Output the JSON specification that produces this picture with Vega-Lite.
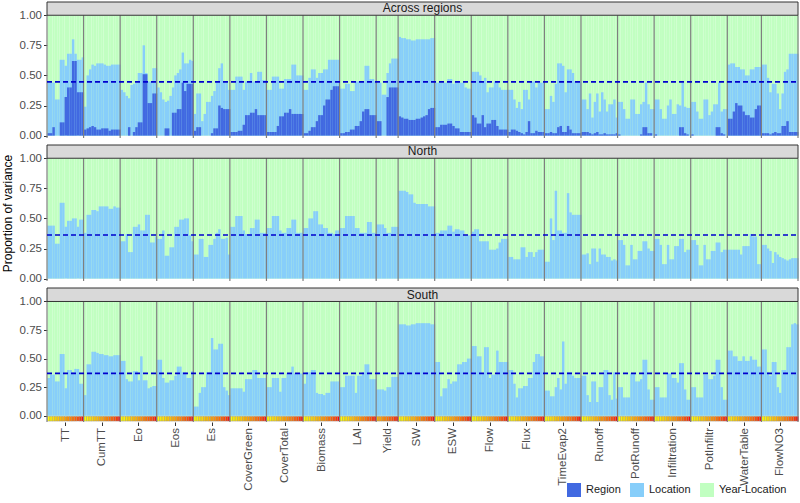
{
"$schema": "https://vega.github.io/schema/vega-lite/v6.json",
"padding": {"left": 1, "top": 1, "right": 1, "bottom": 4},
"bounds": "flush",
"spacing": 7,
"datasets": {
"bars": [
{"g":"TT","k":1,"i":0,"at":0.44,"ar":0.02,"nt":0.44,"st":0.33},
{"g":"TT","k":2,"i":1,"at":0.44,"ar":0.02,"nt":0.44,"st":0.36},
{"g":"TT","k":3,"i":2,"at":0.44,"ar":0.07,"nt":0.44,"st":0.36},
{"g":"TT","k":4,"i":3,"at":0.30,"ar":0,"nt":0.29,"st":0.30},
{"g":"TT","k":5,"i":4,"at":0.30,"ar":0,"nt":0.29,"st":0.30},
{"g":"TT","k":6,"i":5,"at":0.63,"ar":0.11,"nt":0.63,"st":0.54},
{"g":"TT","k":7,"i":6,"at":0.63,"ar":0.11,"nt":0.63,"st":0.54},
{"g":"TT","k":8,"i":7,"at":0.58,"ar":0.32,"nt":0.43,"st":0.24},
{"g":"TT","k":9,"i":8,"at":0.68,"ar":0.40,"nt":0.48,"st":0.40},
{"g":"TT","k":10,"i":9,"at":0.68,"ar":0.40,"nt":0.48,"st":0.40},
{"g":"TT","k":11,"i":10,"at":0.80,"ar":0.62,"nt":0.50,"st":0.38},
{"g":"TT","k":12,"i":11,"at":0.68,"ar":0.62,"nt":0.50,"st":0.41},
{"g":"TT","k":13,"i":12,"at":0.63,"ar":0.36,"nt":0.43,"st":0.41},
{"g":"TT","k":14,"i":13,"at":0.63,"ar":0.36,"nt":0.49,"st":0.28},
{"g":"TT","k":15,"i":14,"at":0.65,"ar":0.36,"nt":0.49,"st":0.28},
{"g":"CumTT","k":1,"i":15,"at":0.24,"ar":0.05,"nt":0.38,"st":0.18},
{"g":"CumTT","k":2,"i":16,"at":0.50,"ar":0.06,"nt":0.53,"st":0.45},
{"g":"CumTT","k":3,"i":17,"at":0.55,"ar":0.07,"nt":0.53,"st":0.45},
{"g":"CumTT","k":4,"i":18,"at":0.59,"ar":0.08,"nt":0.57,"st":0.56},
{"g":"CumTT","k":5,"i":19,"at":0.58,"ar":0.07,"nt":0.57,"st":0.56},
{"g":"CumTT","k":6,"i":20,"at":0.60,"ar":0.05,"nt":0.56,"st":0.55},
{"g":"CumTT","k":7,"i":21,"at":0.60,"ar":0.05,"nt":0.60,"st":0.54},
{"g":"CumTT","k":8,"i":22,"at":0.60,"ar":0.06,"nt":0.60,"st":0.54},
{"g":"CumTT","k":9,"i":23,"at":0.59,"ar":0.06,"nt":0.60,"st":0.53},
{"g":"CumTT","k":10,"i":24,"at":0.58,"ar":0.06,"nt":0.60,"st":0.53},
{"g":"CumTT","k":11,"i":25,"at":0.58,"ar":0.04,"nt":0.58,"st":0.52},
{"g":"CumTT","k":12,"i":26,"at":0.59,"ar":0.05,"nt":0.58,"st":0.52},
{"g":"CumTT","k":13,"i":27,"at":0.59,"ar":0.05,"nt":0.60,"st":0.53},
{"g":"CumTT","k":14,"i":28,"at":0.59,"ar":0.05,"nt":0.59,"st":0.53},
{"g":"CumTT","k":15,"i":29,"at":0.59,"ar":0.05,"nt":0.59,"st":0.53},
{"g":"Eo","k":1,"i":30,"at":0.38,"ar":0,"nt":0.31,"st":0.48},
{"g":"Eo","k":2,"i":31,"at":0.36,"ar":0,"nt":0.31,"st":0.48},
{"g":"Eo","k":3,"i":32,"at":0.33,"ar":0,"nt":0.37,"st":0.32},
{"g":"Eo","k":4,"i":33,"at":0.31,"ar":0.07,"nt":0.22,"st":0.30},
{"g":"Eo","k":5,"i":34,"at":0.42,"ar":0,"nt":0.22,"st":0.30},
{"g":"Eo","k":6,"i":35,"at":0.43,"ar":0.03,"nt":0.43,"st":0.39},
{"g":"Eo","k":7,"i":36,"at":0.44,"ar":0.07,"nt":0.43,"st":0.39},
{"g":"Eo","k":8,"i":37,"at":0.52,"ar":0.11,"nt":0.45,"st":0.31},
{"g":"Eo","k":9,"i":38,"at":0.52,"ar":0.11,"nt":0.40,"st":0.52},
{"g":"Eo","k":10,"i":39,"at":0.75,"ar":0.51,"nt":0.40,"st":0.31},
{"g":"Eo","k":11,"i":40,"at":0.52,"ar":0.51,"nt":0.53,"st":0.31},
{"g":"Eo","k":12,"i":41,"at":0.45,"ar":0.27,"nt":0.53,"st":0.24},
{"g":"Eo","k":13,"i":42,"at":0.45,"ar":0.27,"nt":0.30,"st":0.25},
{"g":"Eo","k":14,"i":43,"at":0.56,"ar":0.35,"nt":0.30,"st":0.26},
{"g":"Eo","k":15,"i":44,"at":0.56,"ar":0.35,"nt":0.35,"st":0.26},
{"g":"Eos","k":1,"i":45,"at":0.40,"ar":0,"nt":0.33,"st":0.49},
{"g":"Eos","k":2,"i":46,"at":0.36,"ar":0,"nt":0.33,"st":0.49},
{"g":"Eos","k":3,"i":47,"at":0.30,"ar":0,"nt":0.40,"st":0.33},
{"g":"Eos","k":4,"i":48,"at":0.28,"ar":0.06,"nt":0.19,"st":0.29},
{"g":"Eos","k":5,"i":49,"at":0.29,"ar":0.06,"nt":0.19,"st":0.29},
{"g":"Eos","k":6,"i":50,"at":0.33,"ar":0,"nt":0.26,"st":0.31},
{"g":"Eos","k":7,"i":51,"at":0.40,"ar":0.19,"nt":0.26,"st":0.31},
{"g":"Eos","k":8,"i":52,"at":0.50,"ar":0.19,"nt":0.43,"st":0.35},
{"g":"Eos","k":9,"i":53,"at":0.52,"ar":0.22,"nt":0.43,"st":0.43},
{"g":"Eos","k":10,"i":54,"at":0.55,"ar":0.22,"nt":0.49,"st":0.43},
{"g":"Eos","k":11,"i":55,"at":0.69,"ar":0.44,"nt":0.49,"st":0.38},
{"g":"Eos","k":12,"i":56,"at":0.60,"ar":0.37,"nt":0.50,"st":0.38},
{"g":"Eos","k":13,"i":57,"at":0.60,"ar":0.43,"nt":0.50,"st":0.33},
{"g":"Eos","k":14,"i":58,"at":0.63,"ar":0.43,"nt":0.36,"st":0.33},
{"g":"Eos","k":15,"i":59,"at":0.62,"ar":0.43,"nt":0.31,"st":0.39},
{"g":"Es","k":1,"i":60,"at":0.18,"ar":0.04,"nt":0.20,"st":0.08},
{"g":"Es","k":2,"i":61,"at":0.35,"ar":0.07,"nt":0.20,"st":0.08},
{"g":"Es","k":3,"i":62,"at":0.35,"ar":0.07,"nt":0.33,"st":0.20},
{"g":"Es","k":4,"i":63,"at":0.12,"ar":0,"nt":0.33,"st":0.25},
{"g":"Es","k":5,"i":64,"at":0.18,"ar":0,"nt":0.18,"st":0.25},
{"g":"Es","k":6,"i":65,"at":0.28,"ar":0,"nt":0.18,"st":0.38},
{"g":"Es","k":7,"i":66,"at":0.28,"ar":0,"nt":0.28,"st":0.38},
{"g":"Es","k":8,"i":67,"at":0.33,"ar":0.02,"nt":0.28,"st":0.68},
{"g":"Es","k":9,"i":68,"at":0.37,"ar":0.06,"nt":0.33,"st":0.58},
{"g":"Es","k":10,"i":69,"at":0.45,"ar":0.06,"nt":0.38,"st":0.58},
{"g":"Es","k":11,"i":70,"at":0.56,"ar":0.25,"nt":0.41,"st":0.63},
{"g":"Es","k":12,"i":71,"at":0.60,"ar":0.23,"nt":0.33,"st":0.63},
{"g":"Es","k":13,"i":72,"at":0.45,"ar":0.22,"nt":0.33,"st":0.25},
{"g":"Es","k":14,"i":73,"at":0.45,"ar":0.22,"nt":0.34,"st":0.22},
{"g":"Es","k":15,"i":74,"at":0.38,"ar":0.22,"nt":0.20,"st":0.18},
{"g":"CoverGreen","k":1,"i":75,"at":0.38,"ar":0.03,"nt":0.43,"st":0.24},
{"g":"CoverGreen","k":2,"i":76,"at":0.38,"ar":0.03,"nt":0.43,"st":0.24},
{"g":"CoverGreen","k":3,"i":77,"at":0.49,"ar":0.03,"nt":0.52,"st":0.24},
{"g":"CoverGreen","k":4,"i":78,"at":0.49,"ar":0.04,"nt":0.52,"st":0.24},
{"g":"CoverGreen","k":5,"i":79,"at":0.49,"ar":0.04,"nt":0.52,"st":0.24},
{"g":"CoverGreen","k":6,"i":80,"at":0.38,"ar":0.09,"nt":0.40,"st":0.21},
{"g":"CoverGreen","k":7,"i":81,"at":0.45,"ar":0.17,"nt":0.37,"st":0.32},
{"g":"CoverGreen","k":8,"i":82,"at":0.45,"ar":0.17,"nt":0.37,"st":0.32},
{"g":"CoverGreen","k":9,"i":83,"at":0.52,"ar":0.19,"nt":0.42,"st":0.32},
{"g":"CoverGreen","k":10,"i":84,"at":0.45,"ar":0.19,"nt":0.42,"st":0.40},
{"g":"CoverGreen","k":11,"i":85,"at":0.45,"ar":0.22,"nt":0.49,"st":0.40},
{"g":"CoverGreen","k":12,"i":86,"at":0.53,"ar":0.17,"nt":0.49,"st":0.33},
{"g":"CoverGreen","k":13,"i":87,"at":0.53,"ar":0.17,"nt":0.38,"st":0.33},
{"g":"CoverGreen","k":14,"i":88,"at":0.46,"ar":0.17,"nt":0.38,"st":0.33},
{"g":"CoverGreen","k":15,"i":89,"at":0.46,"ar":0.17,"nt":0.38,"st":0.33},
{"g":"CoverTotal","k":1,"i":90,"at":0.38,"ar":0.03,"nt":0.42,"st":0.25},
{"g":"CoverTotal","k":2,"i":91,"at":0.38,"ar":0.03,"nt":0.42,"st":0.25},
{"g":"CoverTotal","k":3,"i":92,"at":0.49,"ar":0.03,"nt":0.52,"st":0.33},
{"g":"CoverTotal","k":4,"i":93,"at":0.49,"ar":0.03,"nt":0.52,"st":0.33},
{"g":"CoverTotal","k":5,"i":94,"at":0.49,"ar":0.08,"nt":0.52,"st":0.33},
{"g":"CoverTotal","k":6,"i":95,"at":0.39,"ar":0.16,"nt":0.40,"st":0.21},
{"g":"CoverTotal","k":7,"i":96,"at":0.39,"ar":0.16,"nt":0.38,"st":0.33},
{"g":"CoverTotal","k":8,"i":97,"at":0.47,"ar":0.19,"nt":0.38,"st":0.33},
{"g":"CoverTotal","k":9,"i":98,"at":0.47,"ar":0.19,"nt":0.42,"st":0.37},
{"g":"CoverTotal","k":10,"i":99,"at":0.47,"ar":0.22,"nt":0.42,"st":0.37},
{"g":"CoverTotal","k":11,"i":100,"at":0.59,"ar":0.18,"nt":0.49,"st":0.43},
{"g":"CoverTotal","k":12,"i":101,"at":0.59,"ar":0.18,"nt":0.49,"st":0.37},
{"g":"CoverTotal","k":13,"i":102,"at":0.50,"ar":0.18,"nt":0.38,"st":0.37},
{"g":"CoverTotal","k":14,"i":103,"at":0.50,"ar":0.18,"nt":0.38,"st":0.37},
{"g":"CoverTotal","k":15,"i":104,"at":0.50,"ar":0.18,"nt":0.38,"st":0.37},
{"g":"Biomass","k":1,"i":105,"at":0.38,"ar":0.02,"nt":0.42,"st":0.28},
{"g":"Biomass","k":2,"i":106,"at":0.38,"ar":0.02,"nt":0.42,"st":0.38},
{"g":"Biomass","k":3,"i":107,"at":0.48,"ar":0.04,"nt":0.50,"st":0.38},
{"g":"Biomass","k":4,"i":108,"at":0.55,"ar":0.07,"nt":0.50,"st":0.40},
{"g":"Biomass","k":5,"i":109,"at":0.55,"ar":0.07,"nt":0.56,"st":0.40},
{"g":"Biomass","k":6,"i":110,"at":0.48,"ar":0.12,"nt":0.56,"st":0.20},
{"g":"Biomass","k":7,"i":111,"at":0.52,"ar":0.17,"nt":0.45,"st":0.19},
{"g":"Biomass","k":8,"i":112,"at":0.52,"ar":0.17,"nt":0.45,"st":0.19},
{"g":"Biomass","k":9,"i":113,"at":0.55,"ar":0.25,"nt":0.42,"st":0.18},
{"g":"Biomass","k":10,"i":114,"at":0.55,"ar":0.30,"nt":0.42,"st":0.20},
{"g":"Biomass","k":11,"i":115,"at":0.63,"ar":0.30,"nt":0.38,"st":0.20},
{"g":"Biomass","k":12,"i":116,"at":0.63,"ar":0.38,"nt":0.38,"st":0.30},
{"g":"Biomass","k":13,"i":117,"at":0.63,"ar":0.41,"nt":0.37,"st":0.30},
{"g":"Biomass","k":14,"i":118,"at":0.63,"ar":0.41,"nt":0.40,"st":0.30},
{"g":"Biomass","k":15,"i":119,"at":0.63,"ar":0.41,"nt":0.40,"st":0.30},
{"g":"LAI","k":1,"i":120,"at":0.39,"ar":0.02,"nt":0.42,"st":0.25},
{"g":"LAI","k":2,"i":121,"at":0.39,"ar":0.02,"nt":0.42,"st":0.25},
{"g":"LAI","k":3,"i":122,"at":0.43,"ar":0.03,"nt":0.52,"st":0.35},
{"g":"LAI","k":4,"i":123,"at":0.43,"ar":0.03,"nt":0.52,"st":0.35},
{"g":"LAI","k":5,"i":124,"at":0.37,"ar":0.05,"nt":0.52,"st":0.35},
{"g":"LAI","k":6,"i":125,"at":0.37,"ar":0.05,"nt":0.52,"st":0.35},
{"g":"LAI","k":7,"i":126,"at":0.45,"ar":0.08,"nt":0.42,"st":0.20},
{"g":"LAI","k":8,"i":127,"at":0.45,"ar":0.08,"nt":0.42,"st":0.35},
{"g":"LAI","k":9,"i":128,"at":0.45,"ar":0.12,"nt":0.38,"st":0.35},
{"g":"LAI","k":10,"i":129,"at":0.45,"ar":0.20,"nt":0.38,"st":0.38},
{"g":"LAI","k":11,"i":130,"at":0.58,"ar":0.22,"nt":0.38,"st":0.45},
{"g":"LAI","k":12,"i":131,"at":0.58,"ar":0.22,"nt":0.47,"st":0.45},
{"g":"LAI","k":13,"i":132,"at":0.47,"ar":0.17,"nt":0.47,"st":0.32},
{"g":"LAI","k":14,"i":133,"at":0.47,"ar":0.17,"nt":0.38,"st":0.32},
{"g":"LAI","k":15,"i":134,"at":0.45,"ar":0.17,"nt":0.38,"st":0.32},
{"g":"Yield","k":7,"i":135,"at":0.44,"ar":0.12,"nt":0.45,"st":0.23},
{"g":"Yield","k":8,"i":136,"at":0.44,"ar":0.12,"nt":0.45,"st":0.23},
{"g":"Yield","k":9,"i":137,"at":0.34,"ar":0,"nt":0.45,"st":0.23},
{"g":"Yield","k":10,"i":138,"at":0.34,"ar":0,"nt":0.42,"st":0.22},
{"g":"Yield","k":11,"i":139,"at":0.52,"ar":0.32,"nt":0.38,"st":0.25},
{"g":"Yield","k":12,"i":140,"at":0.60,"ar":0.40,"nt":0.38,"st":0.25},
{"g":"Yield","k":13,"i":141,"at":0.64,"ar":0.40,"nt":0.43,"st":0.34},
{"g":"Yield","k":14,"i":142,"at":0.64,"ar":0.40,"nt":0.43,"st":0.34},
{"g":"Yield","k":15,"i":143,"at":0.64,"ar":0.40,"nt":0.43,"st":0.34},
{"g":"SW","k":1,"i":144,"at":0.82,"ar":0.16,"nt":0.73,"st":0.80},
{"g":"SW","k":2,"i":145,"at":0.81,"ar":0.15,"nt":0.73,"st":0.80},
{"g":"SW","k":3,"i":146,"at":0.81,"ar":0.14,"nt":0.73,"st":0.80},
{"g":"SW","k":4,"i":147,"at":0.80,"ar":0.14,"nt":0.72,"st":0.79},
{"g":"SW","k":5,"i":148,"at":0.80,"ar":0.13,"nt":0.70,"st":0.79},
{"g":"SW","k":6,"i":149,"at":0.79,"ar":0.13,"nt":0.70,"st":0.80},
{"g":"SW","k":7,"i":150,"at":0.79,"ar":0.13,"nt":0.63,"st":0.80},
{"g":"SW","k":8,"i":151,"at":0.80,"ar":0.14,"nt":0.62,"st":0.81},
{"g":"SW","k":9,"i":152,"at":0.80,"ar":0.14,"nt":0.62,"st":0.81},
{"g":"SW","k":10,"i":153,"at":0.80,"ar":0.15,"nt":0.62,"st":0.81},
{"g":"SW","k":11,"i":154,"at":0.80,"ar":0.16,"nt":0.62,"st":0.81},
{"g":"SW","k":12,"i":155,"at":0.80,"ar":0.17,"nt":0.62,"st":0.81},
{"g":"SW","k":13,"i":156,"at":0.80,"ar":0.22,"nt":0.60,"st":0.81},
{"g":"SW","k":14,"i":157,"at":0.81,"ar":0.23,"nt":0.60,"st":0.80},
{"g":"SW","k":15,"i":158,"at":0.81,"ar":0.23,"nt":0.60,"st":0.80},
{"g":"ESW","k":1,"i":159,"at":0.44,"ar":0.07,"nt":0.38,"st":0.47},
{"g":"ESW","k":2,"i":160,"at":0.44,"ar":0.07,"nt":0.38,"st":0.47},
{"g":"ESW","k":3,"i":161,"at":0.44,"ar":0.09,"nt":0.40,"st":0.17},
{"g":"ESW","k":4,"i":162,"at":0.44,"ar":0.09,"nt":0.40,"st":0.24},
{"g":"ESW","k":5,"i":163,"at":0.44,"ar":0.09,"nt":0.40,"st":0.24},
{"g":"ESW","k":6,"i":164,"at":0.47,"ar":0.10,"nt":0.44,"st":0.32},
{"g":"ESW","k":7,"i":165,"at":0.47,"ar":0.10,"nt":0.44,"st":0.28},
{"g":"ESW","k":8,"i":166,"at":0.43,"ar":0.08,"nt":0.39,"st":0.30},
{"g":"ESW","k":9,"i":167,"at":0.45,"ar":0.06,"nt":0.41,"st":0.30},
{"g":"ESW","k":10,"i":168,"at":0.45,"ar":0.06,"nt":0.41,"st":0.45},
{"g":"ESW","k":11,"i":169,"at":0.44,"ar":0.03,"nt":0.40,"st":0.45},
{"g":"ESW","k":12,"i":170,"at":0.44,"ar":0.03,"nt":0.40,"st":0.47},
{"g":"ESW","k":13,"i":171,"at":0.40,"ar":0.03,"nt":0.36,"st":0.47},
{"g":"ESW","k":14,"i":172,"at":0.39,"ar":0.03,"nt":0.36,"st":0.50},
{"g":"ESW","k":15,"i":173,"at":0.39,"ar":0.03,"nt":0.36,"st":0.50},
{"g":"Flow","k":1,"i":174,"at":0.53,"ar":0.17,"nt":0.39,"st":0.61},
{"g":"Flow","k":2,"i":175,"at":0.53,"ar":0.15,"nt":0.41,"st":0.61},
{"g":"Flow","k":3,"i":176,"at":0.53,"ar":0.10,"nt":0.41,"st":0.52},
{"g":"Flow","k":4,"i":177,"at":0.50,"ar":0.10,"nt":0.31,"st":0.52},
{"g":"Flow","k":5,"i":178,"at":0.45,"ar":0.17,"nt":0.31,"st":0.37},
{"g":"Flow","k":6,"i":179,"at":0.48,"ar":0.07,"nt":0.31,"st":0.60},
{"g":"Flow","k":7,"i":180,"at":0.36,"ar":0.10,"nt":0.31,"st":0.60},
{"g":"Flow","k":8,"i":181,"at":0.40,"ar":0.10,"nt":0.24,"st":0.33},
{"g":"Flow","k":9,"i":182,"at":0.40,"ar":0.13,"nt":0.24,"st":0.36},
{"g":"Flow","k":10,"i":183,"at":0.45,"ar":0.13,"nt":0.24,"st":0.36},
{"g":"Flow","k":11,"i":184,"at":0.45,"ar":0.08,"nt":0.25,"st":0.57},
{"g":"Flow","k":12,"i":185,"at":0.40,"ar":0.05,"nt":0.30,"st":0.47},
{"g":"Flow","k":13,"i":186,"at":0.38,"ar":0.05,"nt":0.33,"st":0.47},
{"g":"Flow","k":14,"i":187,"at":0.38,"ar":0.05,"nt":0.33,"st":0.47},
{"g":"Flow","k":15,"i":188,"at":0.38,"ar":0.05,"nt":0.33,"st":0.47},
{"g":"Flux","k":1,"i":189,"at":0.38,"ar":0.03,"nt":0.18,"st":0.40},
{"g":"Flux","k":2,"i":190,"at":0.38,"ar":0.05,"nt":0.18,"st":0.40},
{"g":"Flux","k":3,"i":191,"at":0.30,"ar":0.05,"nt":0.16,"st":0.28},
{"g":"Flux","k":4,"i":192,"at":0.23,"ar":0.04,"nt":0.16,"st":0.16},
{"g":"Flux","k":5,"i":193,"at":0.28,"ar":0.03,"nt":0.16,"st":0.24},
{"g":"Flux","k":6,"i":194,"at":0.22,"ar":0.02,"nt":0.26,"st":0.24},
{"g":"Flux","k":7,"i":195,"at":0.38,"ar":0.01,"nt":0.26,"st":0.26},
{"g":"Flux","k":8,"i":196,"at":0.38,"ar":0.03,"nt":0.18,"st":0.26},
{"g":"Flux","k":9,"i":197,"at":0.30,"ar":0.12,"nt":0.22,"st":0.33},
{"g":"Flux","k":10,"i":198,"at":0.45,"ar":0.02,"nt":0.22,"st":0.33},
{"g":"Flux","k":11,"i":199,"at":0.45,"ar":0.02,"nt":0.18,"st":0.47},
{"g":"Flux","k":12,"i":200,"at":0.40,"ar":0.04,"nt":0.22,"st":0.54},
{"g":"Flux","k":13,"i":201,"at":0.44,"ar":0.03,"nt":0.24,"st":0.54},
{"g":"Flux","k":14,"i":202,"at":0.44,"ar":0.03,"nt":0.24,"st":0.52},
{"g":"Flux","k":15,"i":203,"at":0.44,"ar":0.03,"nt":0.24,"st":0.52},
{"g":"TimeEvap2","k":1,"i":204,"at":0.22,"ar":0.02,"nt":0.14,"st":0.22},
{"g":"TimeEvap2","k":2,"i":205,"at":0.22,"ar":0.02,"nt":0.14,"st":0.22},
{"g":"TimeEvap2","k":3,"i":206,"at":0.33,"ar":0.03,"nt":0.50,"st":0.17},
{"g":"TimeEvap2","k":4,"i":207,"at":0.28,"ar":0.02,"nt":0.32,"st":0.17},
{"g":"TimeEvap2","k":5,"i":208,"at":0.43,"ar":0.02,"nt":0.73,"st":0.25},
{"g":"TimeEvap2","k":6,"i":209,"at":0.60,"ar":0.07,"nt":0.40,"st":0.33},
{"g":"TimeEvap2","k":7,"i":210,"at":0.60,"ar":0.08,"nt":0.40,"st":0.23},
{"g":"TimeEvap2","k":8,"i":211,"at":0.58,"ar":0.03,"nt":0.38,"st":0.65},
{"g":"TimeEvap2","k":9,"i":212,"at":0.36,"ar":0.03,"nt":0.38,"st":0.28},
{"g":"TimeEvap2","k":10,"i":213,"at":0.55,"ar":0.08,"nt":0.71,"st":0.38},
{"g":"TimeEvap2","k":11,"i":214,"at":0.55,"ar":0.05,"nt":0.55,"st":0.38},
{"g":"TimeEvap2","k":12,"i":215,"at":0.52,"ar":0.02,"nt":0.53,"st":0.35},
{"g":"TimeEvap2","k":13,"i":216,"at":0.45,"ar":0.02,"nt":0.53,"st":0.33},
{"g":"TimeEvap2","k":14,"i":217,"at":0.45,"ar":0.02,"nt":0.53,"st":0.33},
{"g":"TimeEvap2","k":15,"i":218,"at":0.45,"ar":0.02,"nt":0.53,"st":0.33},
{"g":"Runoff","k":1,"i":219,"at":0.30,"ar":0.03,"nt":0.20,"st":0.35},
{"g":"Runoff","k":2,"i":220,"at":0.30,"ar":0.03,"nt":0.20,"st":0.35},
{"g":"Runoff","k":3,"i":221,"at":0.22,"ar":0.03,"nt":0.21,"st":0.18},
{"g":"Runoff","k":4,"i":222,"at":0.35,"ar":0.02,"nt":0.12,"st":0.12},
{"g":"Runoff","k":5,"i":223,"at":0.15,"ar":0.01,"nt":0.25,"st":0.30},
{"g":"Runoff","k":6,"i":224,"at":0.28,"ar":0.02,"nt":0.25,"st":0.30},
{"g":"Runoff","k":7,"i":225,"at":0.35,"ar":0.03,"nt":0.14,"st":0.12},
{"g":"Runoff","k":8,"i":226,"at":0.20,"ar":0.01,"nt":0.25,"st":0.25},
{"g":"Runoff","k":9,"i":227,"at":0.36,"ar":0.01,"nt":0.20,"st":0.25},
{"g":"Runoff","k":10,"i":228,"at":0.30,"ar":0.02,"nt":0.20,"st":0.40},
{"g":"Runoff","k":11,"i":229,"at":0.20,"ar":0.01,"nt":0.18,"st":0.40},
{"g":"Runoff","k":12,"i":230,"at":0.26,"ar":0.01,"nt":0.18,"st":0.18},
{"g":"Runoff","k":13,"i":231,"at":0.26,"ar":0.01,"nt":0.15,"st":0.14},
{"g":"Runoff","k":14,"i":232,"at":0.30,"ar":0.01,"nt":0.16,"st":0.38},
{"g":"Runoff","k":15,"i":233,"at":0.15,"ar":0.02,"nt":0.15,"st":0.15},
{"g":"PotRunoff","k":1,"i":234,"at":0.28,"ar":0.01,"nt":0.32,"st":0.25},
{"g":"PotRunoff","k":2,"i":235,"at":0.28,"ar":0,"nt":0.32,"st":0.25},
{"g":"PotRunoff","k":3,"i":236,"at":0.22,"ar":0,"nt":0.28,"st":0.16},
{"g":"PotRunoff","k":4,"i":237,"at":0.14,"ar":0,"nt":0.11,"st":0.16},
{"g":"PotRunoff","k":5,"i":238,"at":0.14,"ar":0,"nt":0.11,"st":0.16},
{"g":"PotRunoff","k":6,"i":239,"at":0.30,"ar":0,"nt":0.28,"st":0.37},
{"g":"PotRunoff","k":7,"i":240,"at":0.30,"ar":0,"nt":0.16,"st":0.37},
{"g":"PotRunoff","k":8,"i":241,"at":0.18,"ar":0,"nt":0.16,"st":0.30},
{"g":"PotRunoff","k":9,"i":242,"at":0.18,"ar":0,"nt":0.23,"st":0.30},
{"g":"PotRunoff","k":10,"i":243,"at":0.26,"ar":0.01,"nt":0.23,"st":0.32},
{"g":"PotRunoff","k":11,"i":244,"at":0.28,"ar":0.07,"nt":0.31,"st":0.49},
{"g":"PotRunoff","k":12,"i":245,"at":0.44,"ar":0.07,"nt":0.31,"st":0.49},
{"g":"PotRunoff","k":13,"i":246,"at":0.26,"ar":0.02,"nt":0.25,"st":0.23},
{"g":"PotRunoff","k":14,"i":247,"at":0.22,"ar":0.02,"nt":0.23,"st":0.14},
{"g":"PotRunoff","k":15,"i":248,"at":0.22,"ar":0,"nt":0.23,"st":0.14},
{"g":"Infiltration","k":1,"i":249,"at":0.30,"ar":0.01,"nt":0.33,"st":0.25},
{"g":"Infiltration","k":2,"i":250,"at":0.30,"ar":0,"nt":0.33,"st":0.25},
{"g":"Infiltration","k":3,"i":251,"at":0.22,"ar":0,"nt":0.28,"st":0.16},
{"g":"Infiltration","k":4,"i":252,"at":0.14,"ar":0,"nt":0.12,"st":0.16},
{"g":"Infiltration","k":5,"i":253,"at":0.14,"ar":0,"nt":0.12,"st":0.16},
{"g":"Infiltration","k":6,"i":254,"at":0.25,"ar":0,"nt":0.28,"st":0.37},
{"g":"Infiltration","k":7,"i":255,"at":0.30,"ar":0,"nt":0.16,"st":0.37},
{"g":"Infiltration","k":8,"i":256,"at":0.18,"ar":0,"nt":0.16,"st":0.33},
{"g":"Infiltration","k":9,"i":257,"at":0.18,"ar":0,"nt":0.27,"st":0.33},
{"g":"Infiltration","k":10,"i":258,"at":0.26,"ar":0,"nt":0.27,"st":0.29},
{"g":"Infiltration","k":11,"i":259,"at":0.25,"ar":0.07,"nt":0.33,"st":0.46},
{"g":"Infiltration","k":12,"i":260,"at":0.44,"ar":0.07,"nt":0.33,"st":0.46},
{"g":"Infiltration","k":13,"i":261,"at":0.24,"ar":0.02,"nt":0.22,"st":0.23},
{"g":"Infiltration","k":14,"i":262,"at":0.23,"ar":0.01,"nt":0.24,"st":0.14},
{"g":"Infiltration","k":15,"i":263,"at":0.23,"ar":0,"nt":0.24,"st":0.14},
{"g":"PotInfiltr","k":1,"i":264,"at":0.28,"ar":0.01,"nt":0.32,"st":0.25},
{"g":"PotInfiltr","k":2,"i":265,"at":0.28,"ar":0,"nt":0.32,"st":0.25},
{"g":"PotInfiltr","k":3,"i":266,"at":0.20,"ar":0,"nt":0.28,"st":0.16},
{"g":"PotInfiltr","k":4,"i":267,"at":0.14,"ar":0,"nt":0.11,"st":0.16},
{"g":"PotInfiltr","k":5,"i":268,"at":0.14,"ar":0,"nt":0.11,"st":0.16},
{"g":"PotInfiltr","k":6,"i":269,"at":0.30,"ar":0,"nt":0.28,"st":0.36},
{"g":"PotInfiltr","k":7,"i":270,"at":0.30,"ar":0,"nt":0.16,"st":0.36},
{"g":"PotInfiltr","k":8,"i":271,"at":0.17,"ar":0,"nt":0.16,"st":0.32},
{"g":"PotInfiltr","k":9,"i":272,"at":0.20,"ar":0,"nt":0.23,"st":0.32},
{"g":"PotInfiltr","k":10,"i":273,"at":0.26,"ar":0,"nt":0.23,"st":0.35},
{"g":"PotInfiltr","k":11,"i":274,"at":0.26,"ar":0.07,"nt":0.30,"st":0.49},
{"g":"PotInfiltr","k":12,"i":275,"at":0.44,"ar":0.07,"nt":0.30,"st":0.49},
{"g":"PotInfiltr","k":13,"i":276,"at":0.20,"ar":0.02,"nt":0.22,"st":0.25},
{"g":"PotInfiltr","k":14,"i":277,"at":0.22,"ar":0.01,"nt":0.24,"st":0.14},
{"g":"PotInfiltr","k":15,"i":278,"at":0.22,"ar":0,"nt":0.24,"st":0.14},
{"g":"WaterTable","k":2,"i":279,"at":0.59,"ar":0.14,"nt":0.24,"st":0.57},
{"g":"WaterTable","k":3,"i":280,"at":0.60,"ar":0.14,"nt":0.24,"st":0.57},
{"g":"WaterTable","k":4,"i":281,"at":0.60,"ar":0.20,"nt":0.24,"st":0.52},
{"g":"WaterTable","k":5,"i":282,"at":0.57,"ar":0.27,"nt":0.24,"st":0.52},
{"g":"WaterTable","k":6,"i":283,"at":0.57,"ar":0.25,"nt":0.24,"st":0.48},
{"g":"WaterTable","k":7,"i":284,"at":0.55,"ar":0.25,"nt":0.20,"st":0.48},
{"g":"WaterTable","k":8,"i":285,"at":0.55,"ar":0.20,"nt":0.27,"st":0.52},
{"g":"WaterTable","k":9,"i":286,"at":0.50,"ar":0.17,"nt":0.27,"st":0.48},
{"g":"WaterTable","k":10,"i":287,"at":0.50,"ar":0.17,"nt":0.27,"st":0.48},
{"g":"WaterTable","k":11,"i":288,"at":0.55,"ar":0.15,"nt":0.37,"st":0.52},
{"g":"WaterTable","k":12,"i":289,"at":0.55,"ar":0.15,"nt":0.35,"st":0.49},
{"g":"WaterTable","k":13,"i":290,"at":0.57,"ar":0.22,"nt":0.35,"st":0.49},
{"g":"WaterTable","k":14,"i":291,"at":0.57,"ar":0.25,"nt":0.12,"st":0.43},
{"g":"WaterTable","k":15,"i":292,"at":0.57,"ar":0.25,"nt":0.12,"st":0.43},
{"g":"FlowNO3","k":1,"i":293,"at":0.59,"ar":0.02,"nt":0.28,"st":0.58},
{"g":"FlowNO3","k":2,"i":294,"at":0.59,"ar":0.02,"nt":0.28,"st":0.58},
{"g":"FlowNO3","k":3,"i":295,"at":0.48,"ar":0.02,"nt":0.25,"st":0.38},
{"g":"FlowNO3","k":4,"i":296,"at":0.36,"ar":0.01,"nt":0.23,"st":0.35},
{"g":"FlowNO3","k":5,"i":297,"at":0.43,"ar":0.02,"nt":0.13,"st":0.47},
{"g":"FlowNO3","k":6,"i":298,"at":0.43,"ar":0.03,"nt":0.22,"st":0.47},
{"g":"FlowNO3","k":7,"i":299,"at":0.35,"ar":0.02,"nt":0.20,"st":0.25},
{"g":"FlowNO3","k":8,"i":300,"at":0.22,"ar":0.02,"nt":0.18,"st":0.20},
{"g":"FlowNO3","k":9,"i":301,"at":0.35,"ar":0.08,"nt":0.17,"st":0.40},
{"g":"FlowNO3","k":10,"i":302,"at":0.53,"ar":0.08,"nt":0.16,"st":0.40},
{"g":"FlowNO3","k":11,"i":303,"at":0.55,"ar":0.12,"nt":0.15,"st":0.60},
{"g":"FlowNO3","k":12,"i":304,"at":0.68,"ar":0.03,"nt":0.16,"st":0.60},
{"g":"FlowNO3","k":13,"i":305,"at":0.68,"ar":0.03,"nt":0.17,"st":0.80},
{"g":"FlowNO3","k":14,"i":306,"at":0.68,"ar":0.03,"nt":0.17,"st":0.81},
{"g":"FlowNO3","k":15,"i":307,"at":0.68,"ar":0.03,"nt":0.17,"st":0.80}
],
"bnd": [{"b":0},{"b":15},{"b":30},{"b":45},{"b":60},{"b":75},{"b":90},{"b":105},{"b":120},{"b":135},{"b":144},{"b":159},{"b":174},{"b":189},{"b":204},{"b":219},{"b":234},{"b":249},{"b":264},{"b":279},{"b":293},{"b":308}],
"panels": [{"panel":"Across regions","m":0.446},{"panel":"North","m":0.362},{"panel":"South","m":0.371}]
},
"vconcat": [
{
"width": 751, "height": 136,
"layer": [
{"data":{"name":"bars"},"mark":{"type":"bar","binSpacing":0},
 "encoding":{
  "x":{"field":"i","type":"quantitative","bin":{"binned":true,"step":1},"scale":{"domain":[0,308],"nice":false,"zero":false},"axis":null},
  "y":{"datum":1,"type":"quantitative","scale":{"domain":[-0.02,1.11],"nice":false},"axis":{"values":[0,0.25,0.5,0.75,1],"format":".2f","title":null,"labelOverlap":false,"tickCount":5}},
  "y2":{"datum":0},
  "color":{"datum":"Year-Location","type":"nominal","scale":{"domain":["Region","Location","Year-Location"],"range":["#4169E1","#87CEFA","#C1FFC1"]},"legend":{"title":null}}}},
{"data":{"name":"bars"},"mark":{"type":"bar","binSpacing":0},
 "encoding":{
  "x":{"field":"i","type":"quantitative","bin":{"binned":true,"step":1},"axis":null},
  "y":{"field":"at","type":"quantitative","axis":{"values":[0,0.25,0.5,0.75,1],"format":".2f","title":null,"labelOverlap":false,"tickCount":5}},
  "y2":{"datum":0},
  "color":{"datum":"Location","type":"nominal","legend":{"title":null}}}},
{"data":{"name":"bars"},"mark":{"type":"bar","binSpacing":0},
 "encoding":{
  "x":{"field":"i","type":"quantitative","bin":{"binned":true,"step":1},"axis":null},
  "y":{"field":"ar","type":"quantitative","axis":{"values":[0,0.25,0.5,0.75,1],"format":".2f","title":null,"labelOverlap":false,"tickCount":5}},
  "y2":{"datum":0},
  "color":{"datum":"Region","type":"nominal","legend":{"title":null}}}},
{"data":{"name":"bnd"},"mark":{"type":"rule","color":"#7F7F7F","strokeWidth":1.2},
 "encoding":{"x":{"field":"b","type":"quantitative","axis":null},"y":{"datum":-0.02,"type":"quantitative","axis":{"values":[0,0.25,0.5,0.75,1],"format":".2f","title":null,"labelOverlap":false,"tickCount":5}},"y2":{"datum":1}}},
{"data":{"name":"panels"},"transform":[{"filter":"datum.panel == 'Across regions'"}],
 "mark":{"type":"rule","color":"#0000CD","strokeDash":[5,3],"strokeWidth":1.7},
 "encoding":{"x":{"datum":0,"axis":null},"x2":{"datum":308},"y":{"field":"m","type":"quantitative","axis":{"values":[0,0.25,0.5,0.75,1],"format":".2f","title":null,"labelOverlap":false,"tickCount":5}}}},
{"data":{"name":"panels"},"transform":[{"filter":"datum.panel == 'Across regions'"}],
 "mark":{"type":"rect","fill":"#D9D9D9","stroke":"#333333","strokeWidth":1},
 "encoding":{"x":{"datum":0,"axis":null},"x2":{"datum":308},"y":{"datum":1,"type":"quantitative","axis":{"values":[0,0.25,0.5,0.75,1],"format":".2f","title":null,"labelOverlap":false,"tickCount":5}},"y2":{"datum":1.11}}},
{"data":{"name":"panels"},"transform":[{"filter":"datum.panel == 'Across regions'"}],
 "mark":{"type":"text","fontSize":12,"color":"#1A1A1A","baseline":"middle"},
 "encoding":{"x":{"datum":154,"axis":null},"y":{"datum":1.057,"type":"quantitative","axis":{"values":[0,0.25,0.5,0.75,1],"format":".2f","title":null,"labelOverlap":false,"tickCount":5}},"text":{"field":"panel"}}}
]
},
{
"width": 751, "height": 136,
"layer": [
{"data":{"name":"bars"},"mark":{"type":"bar","binSpacing":0},
 "encoding":{
  "x":{"field":"i","type":"quantitative","bin":{"binned":true,"step":1},"scale":{"domain":[0,308],"nice":false,"zero":false},"axis":null},
  "y":{"datum":1,"type":"quantitative","scale":{"domain":[-0.02,1.11],"nice":false},"axis":{"values":[0,0.25,0.5,0.75,1],"format":".2f","title":"Proportion of variance","labelOverlap":false,"tickCount":5}},
  "y2":{"datum":0},
  "color":{"datum":"Year-Location","type":"nominal","legend":{"title":null}}}},
{"data":{"name":"bars"},"mark":{"type":"bar","binSpacing":0},
 "encoding":{
  "x":{"field":"i","type":"quantitative","bin":{"binned":true,"step":1},"axis":null},
  "y":{"field":"nt","type":"quantitative","axis":{"values":[0,0.25,0.5,0.75,1],"format":".2f","title":"Proportion of variance","labelOverlap":false,"tickCount":5}},
  "y2":{"datum":0},
  "color":{"datum":"Location","type":"nominal","legend":{"title":null}}}},
{"data":{"name":"bnd"},"mark":{"type":"rule","color":"#7F7F7F","strokeWidth":1.2},
 "encoding":{"x":{"field":"b","type":"quantitative","axis":null},"y":{"datum":-0.02,"type":"quantitative","axis":{"values":[0,0.25,0.5,0.75,1],"format":".2f","title":"Proportion of variance","labelOverlap":false,"tickCount":5}},"y2":{"datum":1}}},
{"data":{"name":"panels"},"transform":[{"filter":"datum.panel == 'North'"}],
 "mark":{"type":"rule","color":"#0000CD","strokeDash":[5,3],"strokeWidth":1.7},
 "encoding":{"x":{"datum":0,"axis":null},"x2":{"datum":308},"y":{"field":"m","type":"quantitative","axis":{"values":[0,0.25,0.5,0.75,1],"format":".2f","title":"Proportion of variance","labelOverlap":false,"tickCount":5}}}},
{"data":{"name":"panels"},"transform":[{"filter":"datum.panel == 'North'"}],
 "mark":{"type":"rect","fill":"#D9D9D9","stroke":"#333333","strokeWidth":1},
 "encoding":{"x":{"datum":0,"axis":null},"x2":{"datum":308},"y":{"datum":1,"type":"quantitative","axis":{"values":[0,0.25,0.5,0.75,1],"format":".2f","title":"Proportion of variance","labelOverlap":false,"tickCount":5}},"y2":{"datum":1.11}}},
{"data":{"name":"panels"},"transform":[{"filter":"datum.panel == 'North'"}],
 "mark":{"type":"text","fontSize":12,"color":"#1A1A1A","baseline":"middle"},
 "encoding":{"x":{"datum":154,"axis":null},"y":{"datum":1.057,"type":"quantitative","axis":{"values":[0,0.25,0.5,0.75,1],"format":".2f","title":"Proportion of variance","labelOverlap":false,"tickCount":5}},"text":{"field":"panel"}}}
]
},
{
"width": 751, "height": 134,
"layer": [
{"data":{"name":"bars"},"mark":{"type":"bar","binSpacing":0},
 "encoding":{
  "x":{"field":"i","type":"quantitative","bin":{"binned":true,"step":1},"scale":{"domain":[0,308],"nice":false,"zero":false},
       "axis":{"values":[7.5,22.5,37.5,52.5,67.5,82.5,97.5,112.5,127.5,139.5,151.5,166.5,181.5,196.5,211.5,226.5,241.5,256.5,271.5,286,300.5],
               "labelExpr":"['TT','CumTT','Eo','Eos','Es','CoverGreen','CoverTotal','Biomass','LAI','Yield','SW','ESW','Flow','Flux','TimeEvap2','Runoff','PotRunoff','Infiltration','PotInfiltr','WaterTable','FlowNO3'][indexof([7.5,22.5,37.5,52.5,67.5,82.5,97.5,112.5,127.5,139.5,151.5,166.5,181.5,196.5,211.5,226.5,241.5,256.5,271.5,286,300.5], datum.value)]",
               "labelAngle":270,"labelOverlap":false,"labelFlush":false,"labelBound":false,"title":null}},
  "y":{"datum":1,"type":"quantitative","scale":{"domain":[-0.055,1.118],"nice":false},"axis":{"values":[0,0.25,0.5,0.75,1],"format":".2f","title":null,"labelOverlap":false,"tickCount":5}},
  "y2":{"datum":0},
  "color":{"datum":"Year-Location","type":"nominal","legend":{"title":null}}}},
{"data":{"name":"bars"},"mark":{"type":"bar","binSpacing":0},
 "encoding":{
  "x":{"field":"i","type":"quantitative","bin":{"binned":true,"step":1}},
  "y":{"field":"st","type":"quantitative","axis":{"values":[0,0.25,0.5,0.75,1],"format":".2f","title":null,"labelOverlap":false,"tickCount":5}},
  "y2":{"datum":0},
  "color":{"datum":"Location","type":"nominal","legend":{"title":null}}}},
{"data":{"name":"bars"},"mark":{"type":"bar","binSpacing":0,"stroke":"#8C8C8C","strokeWidth":0.4},
 "encoding":{
  "x":{"field":"i","type":"quantitative","bin":{"binned":true,"step":1}},
  "y":{"datum":-0.006,"type":"quantitative","axis":{"values":[0,0.25,0.5,0.75,1],"format":".2f","title":null,"labelOverlap":false,"tickCount":5}},
  "y2":{"datum":-0.047},
  "fill":{"field":"k","type":"quantitative","scale":{"domain":[1,15],"range":["#FFFF00","#FF0000"]},"legend":null}}},
{"data":{"name":"bnd"},"mark":{"type":"rule","color":"#7F7F7F","strokeWidth":1.2},
 "encoding":{"x":{"field":"b","type":"quantitative"},"y":{"datum":-0.055,"type":"quantitative","axis":{"values":[0,0.25,0.5,0.75,1],"format":".2f","title":null,"labelOverlap":false,"tickCount":5}},"y2":{"datum":1}}},
{"data":{"name":"panels"},"transform":[{"filter":"datum.panel == 'South'"}],
 "mark":{"type":"rule","color":"#0000CD","strokeDash":[5,3],"strokeWidth":1.7},
 "encoding":{"x":{"datum":0},"x2":{"datum":308},"y":{"field":"m","type":"quantitative","axis":{"values":[0,0.25,0.5,0.75,1],"format":".2f","title":null,"labelOverlap":false,"tickCount":5}}}},
{"data":{"name":"panels"},"transform":[{"filter":"datum.panel == 'South'"}],
 "mark":{"type":"rect","fill":"#D9D9D9","stroke":"#333333","strokeWidth":1},
 "encoding":{"x":{"datum":0},"x2":{"datum":308},"y":{"datum":1,"type":"quantitative","axis":{"values":[0,0.25,0.5,0.75,1],"format":".2f","title":null,"labelOverlap":false,"tickCount":5}},"y2":{"datum":1.118}}},
{"data":{"name":"panels"},"transform":[{"filter":"datum.panel == 'South'"}],
 "mark":{"type":"text","fontSize":12,"color":"#1A1A1A","baseline":"middle"},
 "encoding":{"x":{"datum":154},"y":{"datum":1.059,"type":"quantitative","axis":{"values":[0,0.25,0.5,0.75,1],"format":".2f","title":null,"labelOverlap":false,"tickCount":5}},"text":{"field":"panel"}}}
]
}
],
"config": {
 "view": {"stroke": null},
 "font": "Liberation Sans",
 "axis": {"grid": false, "domain": false, "tickColor": "#333333", "tickSize": 3.5, "labelColor": "#4D4D4D", "labelFontSize": 11.5, "labelPadding": 2, "titleFontWeight": "normal", "titleFontSize": 12, "titleColor": "#000000", "titlePadding": 5},
 "axisY": {"labelOverlap": false},
 "legend": {"orient": "none", "legendX": 520, "legendY": 481, "direction": "horizontal", "symbolType": "square", "symbolSize": 196, "symbolStrokeWidth": 0, "labelFontSize": 11, "labelColor": "#1A1A1A", "labelOffset": 5, "columnPadding": 9}
}
}
